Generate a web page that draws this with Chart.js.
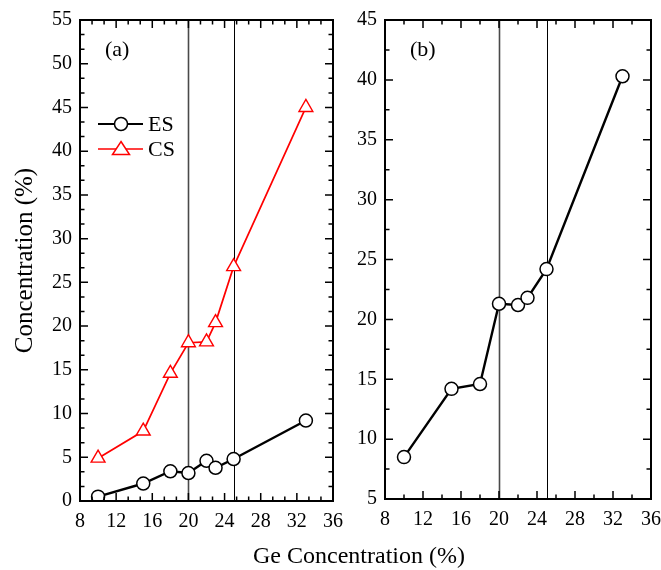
<!DOCTYPE html>
<html>
<head>
<meta charset="utf-8">
<script src="https://cdn.jsdelivr.net/npm/chart.js@4/dist/chart.umd.min.js"></script>
<style>
  html, body { margin: 0; padding: 0; background: #fff; }
  #wrap { position: relative; width: 661px; height: 570px; overflow: hidden; }
  canvas { position: absolute; left: 0; top: 0; }
  #xtitle { position: absolute; left: 209px; width: 300px; top: 543px; text-align: center;
    font-family: "Liberation Serif", "Times New Roman", serif; font-size: 24px; line-height: 24px; color: #000; }
</style>
</head>
<body>
<div id="wrap">
  <canvas id="cA" width="661" height="570"></canvas>
  <canvas id="cB" width="661" height="570"></canvas>
  <div id="xtitle">Ge Concentration (%)</div>
</div>
<script>
// ---- data ----
const geConc = [10, 15, 18, 20, 22, 23, 25, 33];
const esPanelA = [0.5, 2.0, 3.4, 3.2, 4.6, 3.8, 4.8, 9.2];
const csPanelA = [4.9, 8.0, 14.6, 18.1, 18.2, 20.4, 26.8, 45.0];
const esPanelB = [8.5, 14.2, 14.6, 21.3, 21.2, 21.8, 24.2, 40.3];
const markerLines = [20, 25];
const seriesNames = ['ES', 'CS'];
const panelLabels = ['(a)', '(b)'];

const FONT = '"Liberation Serif", "Times New Roman", serif';

function pts(xs, ys) { return xs.map((x, i) => ({ x: x, y: ys[i] })); }

function decorPlugin(cfg) {
  return {
    id: 'decor' + cfg.name,
    beforeDatasetsDraw(chart) {
      const ctx = chart.ctx, a = chart.chartArea, xs = chart.scales.x;
      ctx.save();
      markerLines.forEach((v, i) => {
        const px = Math.round(xs.getPixelForValue(v)) + 0.5;
        ctx.strokeStyle = i === 0 ? '#4a4a4a' : '#000';
        ctx.lineWidth = i === 0 ? 1.6 : 1;
        ctx.beginPath(); ctx.moveTo(px, a.top); ctx.lineTo(px, a.bottom); ctx.stroke();
      });
      ctx.restore();
    },
    afterDraw(chart) {
      const ctx = chart.ctx, a = chart.chartArea, xs = chart.scales.x, ys = chart.scales.y;
      ctx.save();
      ctx.strokeStyle = '#000';
      ctx.lineWidth = 1.5;
      const xMinor = cfg.xMajor / cfg.xDiv;
      for (let k = 0; ; k++) {
        const v = xs.min + k * xMinor;
        if (v > xs.max + 1e-6) break;
        const major = k % cfg.xDiv === 0;
        const len = major ? 8 : 4.5;
        const px = xs.getPixelForValue(v);
        ctx.beginPath();
        ctx.moveTo(px, a.bottom); ctx.lineTo(px, a.bottom - len);
        ctx.moveTo(px, a.top); ctx.lineTo(px, a.top + len);
        ctx.stroke();
      }
      const yMinor = cfg.yMajor / cfg.yDiv;
      for (let k = 0; ; k++) {
        const v = ys.min + k * yMinor;
        if (v > ys.max + 1e-6) break;
        const major = k % cfg.yDiv === 0;
        const len = major ? 8 : 4.5;
        const py = ys.getPixelForValue(v);
        ctx.beginPath();
        ctx.moveTo(a.left, py); ctx.lineTo(a.left + len, py);
        ctx.moveTo(a.right, py); ctx.lineTo(a.right - len, py);
        ctx.stroke();
      }
      ctx.lineWidth = 2;
      ctx.strokeRect(a.left, a.top, a.right - a.left, a.bottom - a.top);
      ctx.fillStyle = '#000';
      ctx.font = '22px ' + FONT;
      ctx.textBaseline = 'middle';
      ctx.textAlign = 'left';
      ctx.fillText(cfg.label, a.left + 25, a.top + 30);
      if (cfg.legend) {
        const lx0 = a.left + 18, lx1 = a.left + 63, cx = a.left + 41;
        const rows = [
          { y: a.top + 104, color: '#000', w: 2.2, style: 'circle', text: seriesNames[0] },
          { y: a.top + 129, color: '#ff0000', w: 1.6, style: 'triangle', text: seriesNames[1] }
        ];
        rows.forEach(r => {
          ctx.strokeStyle = r.color; ctx.lineWidth = r.w;
          ctx.beginPath(); ctx.moveTo(lx0, r.y); ctx.lineTo(lx1, r.y); ctx.stroke();
          ctx.fillStyle = '#fff'; ctx.lineWidth = 1.5;
          ctx.beginPath();
          if (r.style === 'circle') {
            ctx.arc(cx, r.y, 6.5, 0, Math.PI * 2);
          } else {
            ctx.moveTo(cx, r.y - 7.5); ctx.lineTo(cx + 8.5, r.y + 5.5); ctx.lineTo(cx - 8.5, r.y + 5.5); ctx.closePath();
          }
          ctx.fill(); ctx.stroke();
          ctx.fillStyle = '#000';
          ctx.font = '22px ' + FONT;
          ctx.fillText(r.text, lx1 + 5, r.y + 1);
        });
      }
      ctx.restore();
    }
  };
}

function makeScales(yMin, yMax, yTitle, yWidth) {
  return {
    x: {
      type: 'linear', min: 8, max: 36,
      grid: { display: false, drawTicks: false },
      border: { display: false },
      ticks: { stepSize: 4, autoSkip: false, maxRotation: 0, padding: 9, color: '#000',
        font: { family: FONT, size: 20 } },
      afterFit(s) { s.height = 69; s.paddingRight = 0; }
    },
    y: {
      type: 'linear', min: yMin, max: yMax,
      grid: { display: false, drawTicks: false },
      border: { display: false },
      ticks: { stepSize: 5, autoSkip: false, padding: 8, color: '#000',
        font: { family: FONT, size: 20 } },
      title: yTitle ? { display: true, text: yTitle, color: '#000', padding: { top: 10, bottom: 0 },
        font: { family: FONT, size: 25 } } : { display: false },
      afterFit(s) { s.width = yWidth; }
    }
  };
}

const circleDs = (label, data) => ({
  label, data, borderColor: '#000', borderWidth: 2.4, backgroundColor: '#fff',
  pointStyle: 'circle', pointRadius: 6.5, pointBorderWidth: 1.5, pointBackgroundColor: '#fff',
  pointBorderColor: '#000', tension: 0
});

new Chart(document.getElementById('cA'), {
  type: 'line',
  data: {
    datasets: [
      circleDs(seriesNames[0], pts(geConc, esPanelA)),
      { label: seriesNames[1], data: pts(geConc, csPanelA), borderColor: '#ff0000', borderWidth: 1.7,
        backgroundColor: '#fff', pointStyle: 'triangle', pointRadius: 8, pointBorderWidth: 1.4,
        pointBackgroundColor: '#fff', pointBorderColor: '#ff0000', tension: 0 }
    ]
  },
  options: {
    responsive: false, animation: false, devicePixelRatio: 1,
    layout: { padding: { left: 0, top: 17, right: 661 - 333, bottom: 0 } },
    scales: makeScales(0, 55, 'Concentration (%)', 80),
    plugins: { legend: { display: false }, tooltip: { enabled: false } }
  },
  plugins: [decorPlugin({ name: 'A', label: panelLabels[0], xMajor: 4, xDiv: 3, yMajor: 5, yDiv: 3, legend: true })]
});

new Chart(document.getElementById('cB'), {
  type: 'line',
  data: { datasets: [ circleDs(seriesNames[0], pts(geConc, esPanelB)) ] },
  options: {
    responsive: false, animation: false, devicePixelRatio: 1,
    layout: { padding: { left: 340, top: 15, right: 10, bottom: 2 } },
    scales: makeScales(5, 45, null, 45),
    plugins: { legend: { display: false }, tooltip: { enabled: false } }
  },
  plugins: [decorPlugin({ name: 'B', label: panelLabels[1], xMajor: 4, xDiv: 2, yMajor: 5, yDiv: 2, legend: false })]
});
</script>
</body>
</html>
